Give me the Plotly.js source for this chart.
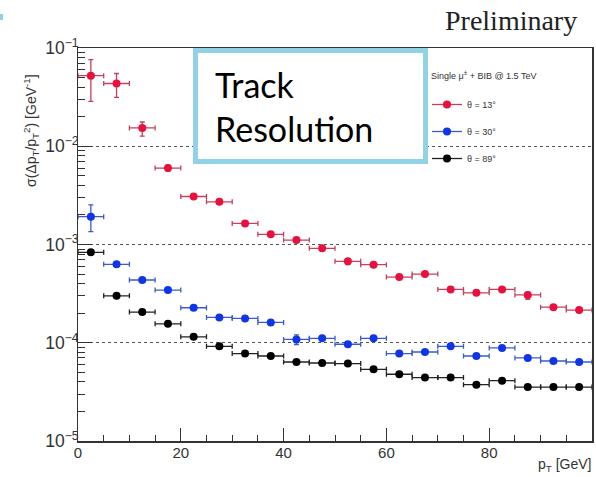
<!DOCTYPE html>
<html>
<head>
<meta charset="utf-8">
<script src="https://cdn.plot.ly/plotly-3.0.1.min.js"></script>
<style>html,body{margin:0;padding:0;background:#fff;}#chart{width:596px;height:477px;}</style>
</head>
<body>
<div id="chart"></div>
<script>
// Bin centres (pT, GeV) and half bin widths
const ptBins = [2.5, 7.5, 12.5, 17.5, 22.5, 27.5, 32.5, 37.5, 42.5, 47.5, 52.5, 57.5, 62.5, 67.5, 72.5, 77.5, 82.5, 87.5, 92.5, 97.5];
const binHalfWidth = [2.5, 2.5, 2.5, 2.5, 2.5, 2.5, 2.5, 2.5, 2.5, 2.5, 2.5, 2.5, 2.5, 2.5, 2.5, 2.5, 2.5, 2.5, 2.5, 2.5];

// theta = 13 deg
const res13 = [0.0523, 0.0435, 0.01535, 0.0060, 0.00308, 0.00272, 0.00164, 0.00127, 0.00111, 0.000914, 0.000674, 0.000623, 0.000466, 0.000500, 0.000349, 0.000322, 0.000349, 0.000307, 0.000230, 0.000215];
const err13Up = [0.024, 0.0115, 0.0023, 0.0004, 0.00012, 0.0001, 0.00006, 0.00004, 0.00003, 0.00003, 0.00004, 0.00002, 0.00002, 0.00002, 0.00001, 0.00001, 0.00001, 0.00002, 0.00001, 0.00001];
const err13Dn = [0.0237, 0.012, 0.0027, 0.0004, 0.00012, 0.0001, 0.00006, 0.00004, 0.00003, 0.00003, 0.00005, 0.00002, 0.00002, 0.00002, 0.00001, 0.00001, 0.00001, 0.00003, 0.00001, 0.00001];

// theta = 30 deg
const res30 = [0.00192, 0.000628, 0.000435, 0.000344, 0.000227, 0.000181, 0.000177, 0.000161, 0.000108, 0.000111, 0.0000966, 0.000111, 0.0000776, 0.0000805, 0.0000920, 0.0000733, 0.0000885, 0.0000700, 0.0000652, 0.0000637];
const err30Up = [0.00061, 0.00003, 0.00002, 0.00002, 0.00001, 0.000008, 0.000007, 0.000008, 0.000012, 0.000005, 0.000004, 0.000005, 0.000003, 0.000004, 0.000004, 0.000003, 0.000004, 0.000003, 0.000002, 0.000002];
const err30Dn = [0.00057, 0.00003, 0.00002, 0.00002, 0.00001, 0.000008, 0.000007, 0.000008, 0.000012, 0.000005, 0.000004, 0.000005, 0.000003, 0.000004, 0.000004, 0.000003, 0.000004, 0.000003, 0.000002, 0.000002];

// theta = 89 deg
const res89 = [0.000832, 0.000300, 0.000205, 0.000156, 0.000115, 0.0000920, 0.0000776, 0.0000733, 0.0000637, 0.0000622, 0.0000614, 0.0000537, 0.0000478, 0.0000442, 0.0000442, 0.0000374, 0.0000411, 0.0000354, 0.0000354, 0.0000354];
const err89Up = [0.00003, 0.00001, 0.000006, 0.000004, 0.000003, 0.000002, 0.000002, 0.000002, 0.000002, 0.000001, 0.000001, 0.000001, 0.000001, 0.000001, 0.000001, 0.000001, 0.000001, 0.000001, 0.000001, 0.000001];
const err89Dn = err89Up;

const seriesNames = ['θ = 13°', 'θ = 30°', 'θ = 89°'];
const seriesColors = ['#e8103c', '#1035e8', '#000000'];
const errColors = ['#c4405e', '#3a5cc8', '#222222'];
const legendTitle = 'Single μ<sup>±</sup> + BIB @ 1.5 TeV';

const yVals = [res13, res30, res89];
const eUp = [err13Up, err30Up, err89Up];
const eDn = [err13Dn, err30Dn, err89Dn];

const traces = [];
for (let i = 0; i < 3; i++) {
  traces.push({
    type: 'scatter', mode: 'markers', x: ptBins, y: yVals[i],
    marker: {color: seriesColors[i], size: 8},
    error_x: {type: 'data', array: binHalfWidth, color: errColors[i], thickness: 1.3, width: 2.5},
    error_y: {type: 'data', symmetric: false, array: eUp[i], arrayminus: eDn[i], color: errColors[i], thickness: 1.3, width: 2.5},
    showlegend: false, cliponaxis: true
  });
}
// legend entries
for (let i = 0; i < 3; i++) {
  traces.push({
    type: 'scatter', mode: 'lines+markers', x: [null], y: [null],
    name: seriesNames[i], legendgroup: 'g' + i,
    marker: {color: seriesColors[i], size: 8},
    line: {color: errColors[i], width: 1.3},
    showlegend: true
  });
}

const L = 78, R = 592, T = 48, B = 441;
const W = 596, H = 477;
const px = v => (v - L) / (R - L);
const py = v => 1 - (v - T) / (B - T);

const layout = {
  width: W, height: H,
  margin: {l: L, r: W - R, t: T, b: H - B, pad: 0},
  paper_bgcolor: '#fff', plot_bgcolor: '#fff',
  font: {family: '"Liberation Sans", Arial, sans-serif', color: '#222'},
  showlegend: true,
  legend: {
    x: px(427), y: py(90), xanchor: 'left', yanchor: 'top',
    bgcolor: 'rgba(0,0,0,0)', borderwidth: 0,
    font: {size: 9, color: '#333'},
    traceorder: 'grouped', tracegroupgap: 8
  },
  xaxis: {
    range: [0, 100], dtick: 20, tick0: 0,
    ticks: 'inside', ticklen: 13, tickwidth: 1, tickcolor: '#333',
    minor: {dtick: 5, ticks: 'inside', ticklen: 6, tickcolor: '#333', showgrid: false},
    showline: true, linecolor: '#333', linewidth: 1.5, mirror: true,
    showgrid: false, zeroline: false, ticklabelstandoff: -3,
    tickfont: {size: 15, color: '#333'}
  },
  yaxis: {
    type: 'log', range: [-5, -1], dtick: 1,
    exponentformat: 'power',
    ticks: 'inside', ticklen: 14, tickwidth: 1, tickcolor: '#333',
    minor: {ticks: 'inside', ticklen: 7, tickcolor: '#333', showgrid: false},
    showline: true, linecolor: '#333', linewidth: 1.5, mirror: true,
    showgrid: true, gridcolor: '#555', griddash: 'dot', gridwidth: 1,
    zeroline: false, ticklabelstandoff: -5,
    tickfont: {size: 14, color: '#333'}
  },
  shapes: [
    {type: 'rect', xref: 'paper', yref: 'paper', x0: px(195.5), x1: px(425.5), y0: py(161.5), y1: py(50.5),
     line: {color: '#92d2e6', width: 5}, fillcolor: '#ffffff', layer: 'above'},
    {type: 'rect', xref: 'paper', yref: 'paper', x0: px(0), x1: px(3), y0: py(20), y1: py(14),
     line: {width: 0}, fillcolor: '#92d2e6', layer: 'above'}
  ],
  annotations: [
    {text: 'Track', xref: 'paper', yref: 'paper', x: px(213), y: py(84), xanchor: 'left', yanchor: 'middle',
     showarrow: false, font: {family: 'Lato, sans-serif', size: 34, color: '#000'}},
    {text: 'Resolution', xref: 'paper', yref: 'paper', x: px(213), y: py(128), xanchor: 'left', yanchor: 'middle',
     showarrow: false, font: {family: 'Lato, sans-serif', size: 34, color: '#000'}},
    {text: 'Preliminary', xref: 'paper', yref: 'paper', x: px(579), y: py(20), xanchor: 'right', yanchor: 'middle',
     showarrow: false, font: {family: '"Liberation Serif", "Times New Roman", serif', size: 28, color: '#222'}},
    {text: legendTitle, xref: 'paper', yref: 'paper', x: px(429), y: py(75), xanchor: 'left', yanchor: 'middle',
     showarrow: false, font: {size: 9, color: '#333'}},
    {text: 'p<sub>T</sub> [GeV]', xref: 'paper', yref: 'paper', x: px(593), y: py(465), xanchor: 'right', yanchor: 'middle',
     showarrow: false, font: {size: 14, color: '#333'}},
    {text: 'σ(Δp<sub>T</sub>/p<sub>T</sub><sup>2</sup>) [GeV<sup>-1</sup>]', xref: 'paper', yref: 'paper',
     x: px(31), y: py(131), xanchor: 'center', yanchor: 'middle', textangle: -90,
     showarrow: false, font: {size: 14, color: '#333'}}
  ]
};

Plotly.newPlot('chart', traces, layout, {displayModeBar: false, staticPlot: true});
</script>
</body>
</html>
